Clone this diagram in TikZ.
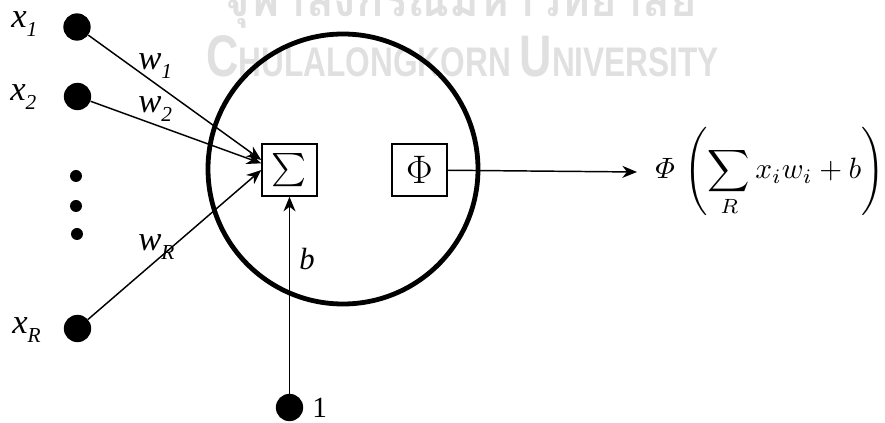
\documentclass[tikz,border=0pt]{standalone}
\usepackage{amsmath}
\usepackage{fontspec}
\setmainfont{Liberation Serif}[ItalicFont={Liberation Serif Italic}]
\newfontfamily\thaifont[Script=Thai]{Loma}
\newfontfamily\wmfont{Liberation Sans}
\usetikzlibrary{arrows.meta}
\definecolor{wm}{gray}{0.88}
\newcommand\vlab[2]{\textit{#1}\raisebox{-0.25em}{\fontsize{16}{16}\selectfont\textit{#2}}}
\begin{document}
\begin{tikzpicture}[x=0.75pt,y=-0.75pt,
  dot/.style={circle,fill=black,inner sep=0pt,minimum size=20.5pt},
  smalldot/.style={circle,fill=black,inner sep=0pt,minimum size=9pt},
  lab/.style={inner sep=0pt,anchor=base west,font=\fontsize{26}{26}\selectfont},
  opbox/.style={draw,line width=1.1pt,minimum width=41.25pt,minimum height=39pt,inner sep=0pt},
  arr/.style={line width=1.1pt,-{Stealth[length=11pt,width=9pt,inset=3.5pt]}}]
\useasboundingbox (0,0) rectangle (885,423);
% watermark
\node[anchor=base,inner sep=0pt,text=wm,font=\thaifont\bfseries\fontsize{34}{34}\selectfont] (wmth) at (460,17) {จุฬาลงกรณ์มหาวิทยาลัย};
\node[anchor=base west,inner sep=0pt,text=wm,font=\wmfont\bfseries] (wmen) at (206,77)
  {\scalebox{0.765}[1]{\fontsize{44}{44}\selectfont C\fontsize{31}{31}\selectfont HULALONGKORN \fontsize{44}{44}\selectfont U\fontsize{31}{31}\selectfont NIVERSITY}};
% neuron body
\node[draw,circle,line width=3.6pt,minimum size=202.5pt,inner sep=0pt] (neuron) at (343,169) {};
\node[opbox,font=\fontsize{24}{24}\selectfont] (sum) at (289.5,170) {$\sum$};
\node[opbox,font=\fontsize{24}{24}\selectfont] (phi) at (419.5,170) {\scalebox{1.2}{$\Phi$}};
% inputs
\node[dot] (x1) at (77,27) {};
\node[dot] (x2) at (77.5,96.5) {};
\node[dot] (xR) at (77.5,328.5) {};
\node[smalldot] (d1) at (76,176) {};
\node[smalldot] (d2) at (76,206) {};
\node[smalldot] (d3) at (77,234) {};
\node[dot] (one) at (289.5,407.5) {};
% labels
\node[lab] (lx1) at (11,28) {\vlab{x}{1}};
\node[lab] (lx2) at (10,101) {\vlab{x}{2}};
\node[lab] (lxR) at (12,334) {\vlab{x}{R}};
\node[lab] (lw1) at (138,70) {\vlab{w}{1}};
\node[lab] (lw2) at (138,113) {\vlab{w}{2}};
\node[lab] (lwR) at (138,251) {\vlab{w}{R}};
\node[lab,font=\fontsize{23}{23}\selectfont] (lb) at (299,270) {\textit{b}};
\node[lab,font=\fontsize{22}{22}\selectfont] (l1) at (312,418) {1};
% output formula
\node[anchor=west,inner xsep=13.5pt,inner ysep=0pt] (out) at (637,172)
  {\resizebox{172pt}{!}{$\displaystyle \varPhi\,\left(\sum_{R} x_i w_i + b\right)$}};
% connectors
\draw[arr] (x1) -- ([yshift=7.5pt]sum.west);
\draw[arr] (x2) -- ([yshift=5pt]sum.west);
\draw[arr] (xR) -- (sum.west);
\draw[arr] (one) -- (sum);
\draw[arr] (phi) -- (out.west);
\end{tikzpicture}
\end{document}
